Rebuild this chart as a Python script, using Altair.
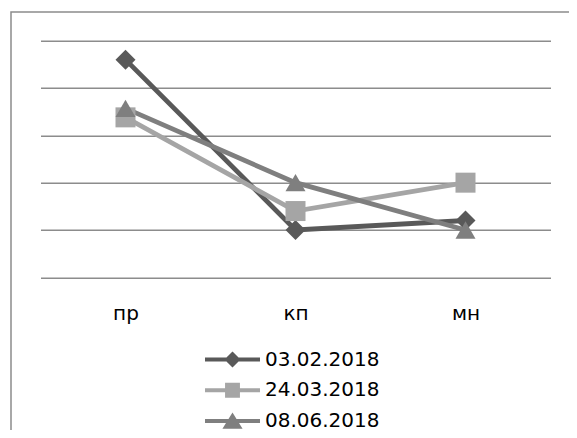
import altair as alt
import pandas as pd

categories = ["пр", "кп", "мн"]
series_names = ["03.02.2018", "24.03.2018", "08.06.2018"]
values_s1 = [4.6, 1.0, 1.2]
values_s2 = [3.38, 1.4, 2.0]
values_s3 = [3.57, 2.0, 1.0]
y_ticks = [0, 1, 2, 3, 4, 5]

colors = ["#595959", "#a5a5a5", "#7f7f7f"]
shapes = ["diamond", "square", "triangle-up"]

rows = []
for s, vals in zip(series_names, [values_s1, values_s2, values_s3]):
    for c, v in zip(categories, vals):
        rows.append({"cat": c, "series": s, "value": v})
df = pd.DataFrame(rows)

# legend symbol paths (line + marker), units: 1 = 15.5px
L = 1.774
T = 0.13
bar = f"M{-L},{-T}L{L},{-T}L{L},{T}L{-L},{T}Z"
p_diamond = bar + "M-0.52,0L0,-0.52L0.52,0L0,0.52Z"
p_square = bar + "M-0.48,-0.48L0.48,-0.48L0.48,0.48L-0.48,0.48Z"
p_tri = bar + "M0,-0.55L0.65,0.5L-0.65,0.5Z"
legend_shapes = [p_diamond, p_square, p_tri]

FONT = "DejaVu Sans"

x_enc = alt.X(
    "cat:N",
    sort=categories,
    scale=alt.Scale(type="point", padding=0.5),
    axis=alt.Axis(
        title=None, labelAngle=0, labelFont=FONT, labelFontSize=20,
        labelColor="black", ticks=False, tickSize=0, domain=False,
        labelPadding=26, grid=False,
    ),
)
y_enc = alt.Y(
    "value:Q",
    scale=alt.Scale(domain=[0, 5], nice=False, zero=True),
    axis=alt.Axis(
        values=y_ticks, labels=False, ticks=False, domain=False, title=None,
        grid=True, gridColor="#8c8c8c", gridWidth=1.5,
    ),
)

base = alt.Chart(df)

lines = base.mark_line(strokeWidth=4.8).encode(
    x=x_enc,
    y=y_enc,
    stroke=alt.Stroke(
        "series:N",
        scale=alt.Scale(domain=series_names, range=colors),
        legend=None,
    ),
    detail="series:N",
)

points = base.mark_point(filled=True, size=400, opacity=1, strokeWidth=0).encode(
    x=x_enc,
    y=y_enc,
    fill=alt.Fill(
        "series:N",
        scale=alt.Scale(domain=series_names, range=colors),
        legend=None,
    ),
    shape=alt.Shape(
        "series:N",
        scale=alt.Scale(domain=series_names, range=shapes),
        legend=None,
    ),
)

legend = alt.Legend(
    orient="none",
    legendX=176.5,
    legendY=303.3,
    title=None,
    padding=0,
    symbolSize=961,
    symbolStrokeWidth=0,
    symbolOpacity=1,
    labelFont=FONT,
    labelFontSize=20,
    labelColor="black",
    labelOffset=17,
    rowPadding=4.8,
)

# legend-only layer: its shape scale (line + marker paths) feeds the legend;
# its marks are filtered out so nothing is drawn in the plot
legend_layer = base.transform_filter("false").mark_point(filled=True).encode(
    x=x_enc,
    y=y_enc,
    color=alt.Color(
        "series:N",
        scale=alt.Scale(domain=series_names, range=colors),
        legend=legend,
    ),
    shape=alt.Shape(
        "series:N",
        scale=alt.Scale(domain=series_names, range=legend_shapes),
        legend=legend,
    ),
)

border = alt.Chart(pd.DataFrame({"a": [0]})).mark_rect(
    fill=None, stroke="#8c8c8c", strokeWidth=1.5, clip=False
).encode(
    x=alt.value(-29.5), x2=alt.value(700),
    y=alt.value(-28.7), y2=alt.value(600),
)

chart = alt.layer(lines, points, legend_layer, border).resolve_scale(
    shape="independent", color="independent"
).resolve_legend(
    shape="independent", color="independent"
).properties(
    width=510,
    height=236.6,
    background="white",
    autosize=alt.AutoSizeParams(type="none"),
    padding={"left": 32.5, "top": 32.7, "right": 18.5, "bottom": 152.7},
).configure_view(stroke=None)

chart.save("out.html", embed_options={"renderer": "svg", "actions": False})
